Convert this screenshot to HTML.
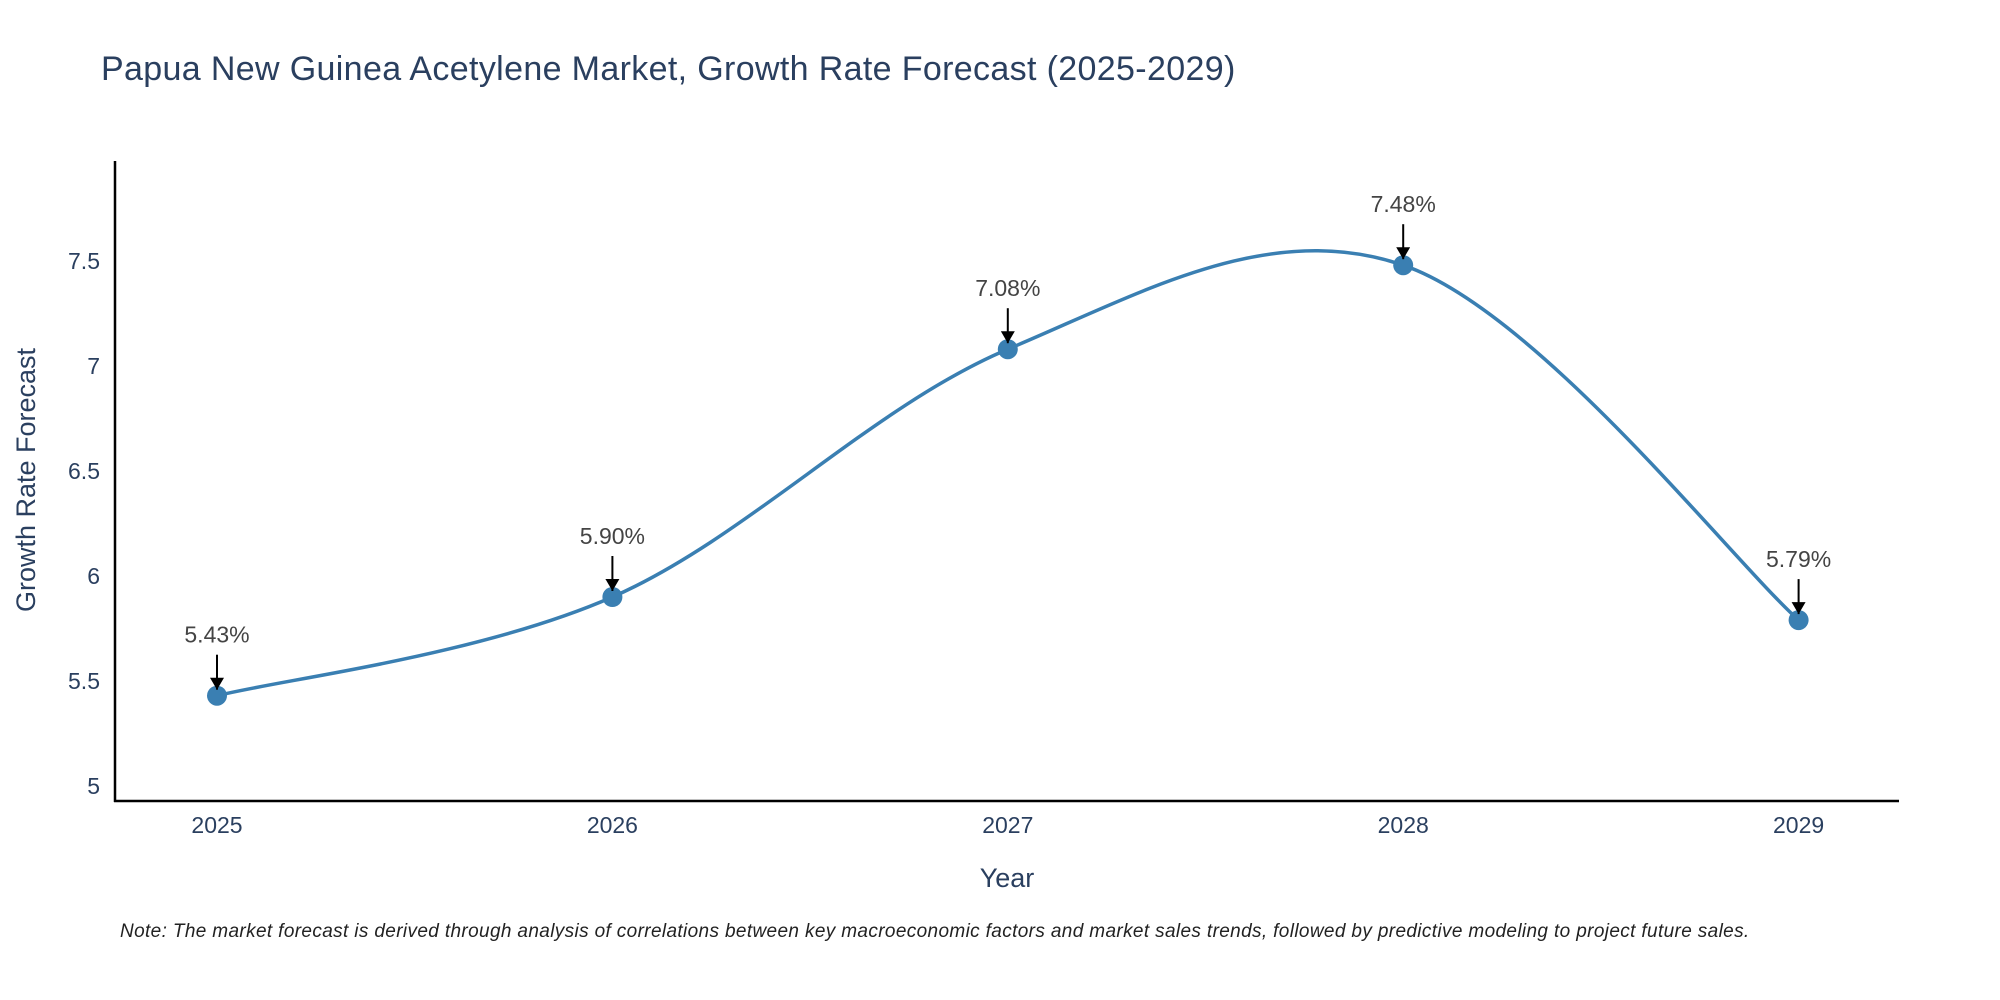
<!DOCTYPE html>
<html><head><meta charset="utf-8"><style>
body{margin:0;background:#fff;}
svg{display:block;font-family:"Liberation Sans",sans-serif;}
</style></head><body>
<svg id="chart" width="2000" height="1000" viewBox="0 0 2000 1000">
<text x="101" y="80" font-size="34" letter-spacing="0.35" fill="#2a3f5f">Papua New Guinea Acetylene Market, Growth Rate Forecast (2025-2029)</text>
<g id="yticks"></g><g id="xticks"></g>
<path id="line" fill="none" stroke="#3a7fb2" stroke-width="3.5"/>
<g id="points"></g>
<line x1="115" y1="161" x2="115" y2="802" stroke="#000" stroke-width="2.5"/>
<line x1="114" y1="801" x2="1899" y2="801" stroke="#000" stroke-width="2.5"/>
<text x="1007" y="887" font-size="27" fill="#2a3f5f" text-anchor="middle">Year</text>
<text transform="translate(35,480) rotate(-90)" font-size="27" fill="#2a3f5f" text-anchor="middle">Growth Rate Forecast</text>
<text x="120" y="937" font-size="19" font-style="italic" letter-spacing="0.36" fill="#222">Note: The market forecast is derived through analysis of correlations between key macroeconomic factors and market sales trends, followed by predictive modeling to project future sales.</text>
<defs><marker id="ah" markerWidth="14" markerHeight="14" refX="12" refY="7" orient="auto" markerUnits="userSpaceOnUse"><path d="M0,0 L12,7 L0,14 Z" fill="#000"/></marker></defs>
</svg>
<script>
const years=[2025,2026,2027,2028,2029];
const values=[5.43,5.90,7.08,7.48,5.79];
const labels=["5.43%","5.90%","7.08%","7.48%","5.79%"];
const yTicks=[5,5.5,6,6.5,7,7.5];
const yTickLabels=["5","5.5","6","6.5","7","7.5"];
const NS="http://www.w3.org/2000/svg";
const xs=y=>217+(y-2025)*395.4;
const ys=v=>786-(v-5)*210;
function mk(t,a,p){const e=document.createElementNS(NS,t);for(const k in a)e.setAttribute(k,a[k]);p.appendChild(e);return e;}
const yg=document.getElementById('yticks'),xg=document.getElementById('xticks'),pg=document.getElementById('points');
yTicks.forEach((v,i)=>{const t=mk('text',{x:100,y:ys(v)+8,'font-size':23,fill:'#2a3f5f','text-anchor':'end'},yg);t.textContent=yTickLabels[i];

});
years.forEach(y=>{const t=mk('text',{x:xs(y),y:833,'font-size':23,fill:'#2a3f5f','text-anchor':'middle'},xg);t.textContent=y;

});
const P=years.map((y,i)=>[xs(y),ys(values[i])]);
let d=`M${P[0][0]},${P[0][1]}`;const k=0.17;
for(let i=0;i<P.length-1;i++){const p0=P[Math.max(0,i-1)],p1=P[i],p2=P[i+1],p3=P[Math.min(P.length-1,i+2)];
d+=` C${p1[0]+(p2[0]-p0[0])*k},${p1[1]+(p2[1]-p0[1])*k} ${p2[0]-(p3[0]-p1[0])*k},${p2[1]-(p3[1]-p1[1])*k} ${p2[0]},${p2[1]}`;}
document.getElementById('line').setAttribute('d',d);
P.forEach((p,i)=>{const c=mk('circle',{cx:p[0],cy:p[1],r:10,fill:'#3a7fb2'},pg);


const l=mk('line',{x1:p[0],y1:p[1]-41,x2:p[0],y2:p[1]-6,stroke:'#000','stroke-width':2,'marker-end':'url(#ah)'},pg);


const t=mk('text',{x:p[0],y:p[1]-53,'font-size':23,fill:'#444','text-anchor':'middle'},pg);t.textContent=labels[i];

});
</script>
</body></html>
